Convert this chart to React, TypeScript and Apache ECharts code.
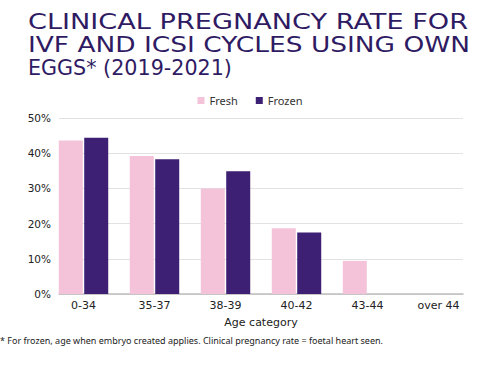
import React, { useEffect, useRef } from "react";
import * as echarts from "echarts";

const categories = ["0-34", "35-37", "38-39", "40-42", "43-44", "over 44"];
const freshValues = [43.6, 39.2, 30.0, 18.7, 9.4, 0];
const frozenValues = [44.4, 38.3, 34.9, 17.5, 0, 0];
const yTicks = [0, 10, 20, 30, 40, 50];
const titleLines = [
  "CLINICAL PREGNANCY RATE FOR",
  "IVF AND ICSI CYCLES USING OWN",
  "EGGS* (2019-2021)",
];
const titleWidths = [440, 442, 204];
const footnote =
  "* For frozen, age when embryo created applies. Clinical pregnancy rate = foetal heart seen.";

export default function App() {
  const ref = useRef<HTMLDivElement>(null);
  useEffect(() => {
    if (!ref.current) return;
    const chart = echarts.init(ref.current, null, { renderer: "svg" });
    const font = "'Noto Sans', sans-serif";
    const axisFont = "'DejaVu Sans', sans-serif";
    const titleFont = "'DejaVu Sans', sans-serif";
    const titleSize = 21;
    const titleEls = titleLines.map((t, i) => {
      const probe = new echarts.graphic.Text({
        style: { text: t, fontFamily: titleFont, fontSize: titleSize },
      });
      const w = probe.getBoundingRect().width || 1;
      return {
        type: "text",
        x: 28,
        y: 11 + i * 23,
        scaleX: titleWidths[i] / w,
        style: {
          text: t,
          fontFamily: titleFont,
          fontSize: titleSize,
          fill: "#2f1b63",
          textVerticalAlign: "top",
        },
      };
    });
    chart.setOption({
      animation: false,
      backgroundColor: "#ffffff",
      textStyle: { fontFamily: font },
      graphic: [
        ...titleEls,
        {
          type: "text",
          left: 0,
          top: 336,
          style: { text: footnote, fontFamily: font, fontSize: 9, fill: "#222" },
        },
      ],
      legend: {
        data: ["Fresh", "Frozen"],
        top: 90,
        left: "center",
        itemWidth: 7,
        itemHeight: 7,
        itemGap: 18,
        icon: "rect",
        textStyle: { fontFamily: font, fontSize: 11, color: "#333" },
      },
      grid: [
        { left: 48, right: 26, top: 118, bottom: 81 },
        { left: 59, right: 37, top: 118, bottom: 81 },
      ],
      xAxis: [
        {
          type: "category",
          gridIndex: 0,
          data: categories,
          axisLine: { show: false },
          axisTick: { show: false },
          axisLabel: { fontFamily: axisFont, fontSize: 11, color: "#222", margin: 6 },
          name: "Age category",
          nameLocation: "middle",
          nameGap: 23,
          nameTextStyle: { fontFamily: axisFont, fontSize: 11, color: "#222" },
        },
        {
          type: "category",
          gridIndex: 1,
          data: categories,
          axisLine: { show: true, lineStyle: { color: "#bdbdbd", width: 1.5 } },
          axisTick: { show: false },
          axisLabel: { show: false },
        },
      ],
      yAxis: [
        {
          type: "value",
          gridIndex: 0,
          min: 0,
          max: 50,
          interval: 10,
          axisLabel: { show: false },
          splitLine: { show: false },
          axisLine: { show: false },
          axisTick: { show: false },
        },
        {
          type: "value",
          gridIndex: 1,
          min: yTicks[0],
          max: yTicks[yTicks.length - 1],
          interval: 10,
          axisLabel: {
            formatter: "{value}%",
            fontFamily: axisFont,
            fontSize: 10.5,
            color: "#222",
            margin: 8,
          },
          splitLine: { lineStyle: { color: "#e2e2e2", width: 1 } },
          axisLine: { show: false },
          axisTick: { show: false },
        },
      ],
      series: [
        {
          name: "Fresh",
          type: "bar",
          xAxisIndex: 0,
          yAxisIndex: 0,
          data: freshValues,
          barWidth: 24,
          barGap: "6%",
          itemStyle: { color: "#f4c3d9" },
          z: 3,
        },
        {
          name: "Frozen",
          type: "bar",
          xAxisIndex: 0,
          yAxisIndex: 0,
          data: frozenValues,
          barWidth: 24,
          barGap: "6%",
          itemStyle: { color: "#3d1f74" },
          z: 3,
        },
      ],
    });
    return () => chart.dispose();
  }, []);
  return (
    <div
      ref={ref}
      style={{ position: "fixed", left: 0, top: 0, width: 500, height: 375 }}
    />
  );
}
